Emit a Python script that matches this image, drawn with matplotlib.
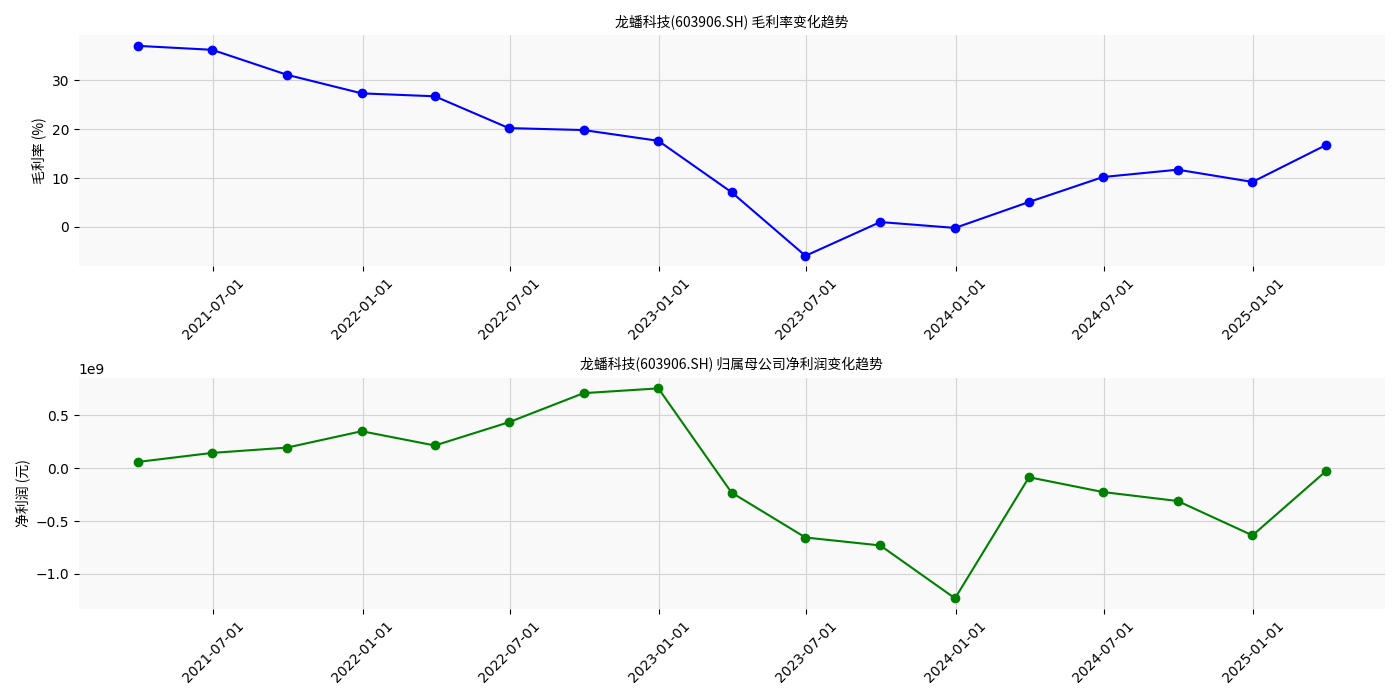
import pandas as pd
import matplotlib
matplotlib.use("Agg")
import matplotlib.pyplot as plt
import matplotlib.dates as mdates

# ticks stay in DejaVu Sans, Chinese text gets the CJK family
CJK = ['Noto Sans CJK SC', 'DejaVu Sans']

# quarterly report dates
dates = pd.to_datetime([
    "2021-03-31", "2021-06-30", "2021-09-30", "2021-12-31",
    "2022-03-31", "2022-06-30", "2022-09-30", "2022-12-31",
    "2023-03-31", "2023-06-30", "2023-09-30", "2023-12-31",
    "2024-03-31", "2024-06-30", "2024-09-30", "2024-12-31",
    "2025-03-31",
])

# gross margin (%)
gross_margin = [37.0, 36.2, 31.1, 27.3, 26.7, 20.2, 19.8, 17.6,
                7.1, -5.9, 1.0, -0.2, 5.1, 10.2, 11.7, 9.2, 16.7]

# net profit attributable to parent (yuan)
net_profit = [0.06e9, 0.145e9, 0.195e9, 0.35e9, 0.215e9, 0.435e9, 0.71e9, 0.755e9,
              -0.23e9, -0.655e9, -0.73e9, -1.23e9, -0.085e9, -0.225e9, -0.31e9, -0.635e9, -0.03e9]

title1 = "龙蟠科技(603906.SH) 毛利率变化趋势"
title2 = "龙蟠科技(603906.SH) 归属母公司净利润变化趋势"

fig, (ax1, ax2) = plt.subplots(2, 1, figsize=(14, 7), dpi=100)

def style(ax):
    ax.set_facecolor("#f9f9f9")
    ax.grid(True, color="#d3d3d3", linewidth=0.8)
    ax.set_axisbelow(True)
    for s in ax.spines.values():
        s.set_visible(False)
    ax.xaxis.set_major_locator(mdates.MonthLocator(bymonth=[1, 7]))
    ax.xaxis.set_major_formatter(mdates.DateFormatter("%Y-%m-%d"))
    plt.setp(ax.get_xticklabels(), rotation=45)

ax1.plot(dates, gross_margin, color="blue", marker="o", markersize=6, linewidth=1.5)
ax1.set_title(title1, fontsize=10, family=CJK)
ax1.set_ylabel("毛利率 (%)", family=CJK)
style(ax1)

ax2.plot(dates, net_profit, color="green", marker="o", markersize=6, linewidth=1.5)
ax2.set_title(title2, fontsize=10, family=CJK)
ax2.set_ylabel("净利润 (元)", family=CJK)
style(ax2)

plt.tight_layout()
plt.savefig("out.png")
